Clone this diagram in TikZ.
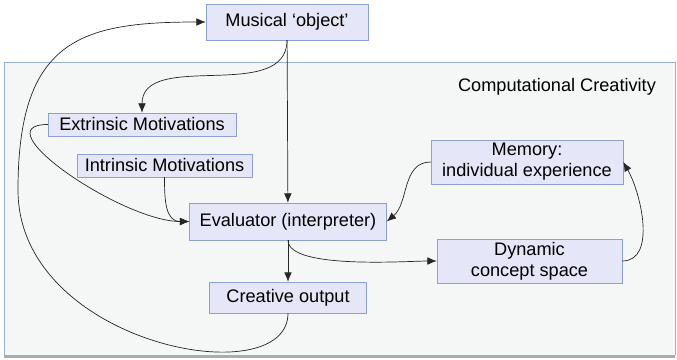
\documentclass[tikz,border=0pt]{standalone}
\usepackage{fontspec}
\setmainfont{Liberation Sans}
\usepackage{tikz}
\usetikzlibrary{positioning,calc,arrows.meta}
\definecolor{boxfill}{RGB}{230,230,249}
\definecolor{boxline}{RGB}{140,160,212}
\definecolor{areafill}{RGB}{245,246,246}
\definecolor{arealine}{RGB}{155,178,216}
\definecolor{areabase}{RGB}{165,174,178}

\begin{document}
\begin{tikzpicture}[
  x=0.03cm, y=0.03cm,
  bx/.style={draw=boxline, fill=boxfill, rectangle, inner sep=0pt,
    align=center, font=\fontsize{15.5}{18}\selectfont},
  link/.style={draw, black!85, line width=0.6pt,
    -{Latex[length=8pt,width=6.5pt]}},
  plain/.style={draw, black!85, line width=0.6pt}
]
\useasboundingbox (0,0) rectangle (677,-359);

% Computational creativity area
\fill[areafill] (4,-62) rectangle (675,-355);
\draw[arealine, line width=0.8pt] (4,-355) -- (4,-62) -- (675,-62) -- (675,-355);
\draw[areabase, line width=2.5pt] (4,-356.5) -- (675,-356.5);
\node[font=\fontsize{15.5}{18}\selectfont] (area) at (557,-87)
  {Computational Creativity};

% Boxes
\node[bx, minimum width=4.86cm, minimum height=1.08cm] (mus) at (287,-22)
  {Musical ‘object’};
\node[bx, minimum width=5.64cm, minimum height=0.69cm] (ext) at (142,-124.5)
  {Extrinsic Motivations};
\node[bx, minimum width=5.25cm, minimum height=0.69cm] (intr) at (164.5,-165.5)
  {Intrinsic Motivations};
\node[bx, minimum width=5.91cm, minimum height=1.11cm] (eval) at (288,-221.5)
  {Evaluator (interpreter)};
\node[bx, minimum width=4.71cm, minimum height=0.93cm] (cre) at (288,-297.5)
  {Creative output};
\node[bx, minimum width=5.76cm, minimum height=1.32cm] (mem) at (527,-162)
  {Memory:\\individual experience};
\node[bx, minimum width=5.55cm, minimum height=1.32cm] (dyn) at (529.5,-261)
  {Dynamic\\concept space};

% Straight links
\foreach \a/\b in {mus/eval, eval/cre}
  \draw[link] (\a) -- (\b);

% Curved links
\draw[link] (mus.south) to[out=-90,in=90] (ext.north);
\draw[link] (ext.west) to[out=180,in=180] (eval.west);
\draw[link] (intr.south) to[out=-90,in=180,looseness=1.2] (eval.west);
\draw[link] (eval.south) to[out=-90,in=180,looseness=0.5] (dyn.west);
\draw[link] (dyn.east) to[out=0,in=-60,looseness=0.9] (mem.east);
\draw[link] (mem.west) to[out=180,in=40] (eval.east);

% Loop back from output to the object
\coordinate (lp) at (18,-190);
\draw[link] (cre.south) .. controls (288,-395) and (18,-345) .. (lp)
  .. controls (18,-40) and (80,-22) .. (mus.west);
\end{tikzpicture}
\end{document}
